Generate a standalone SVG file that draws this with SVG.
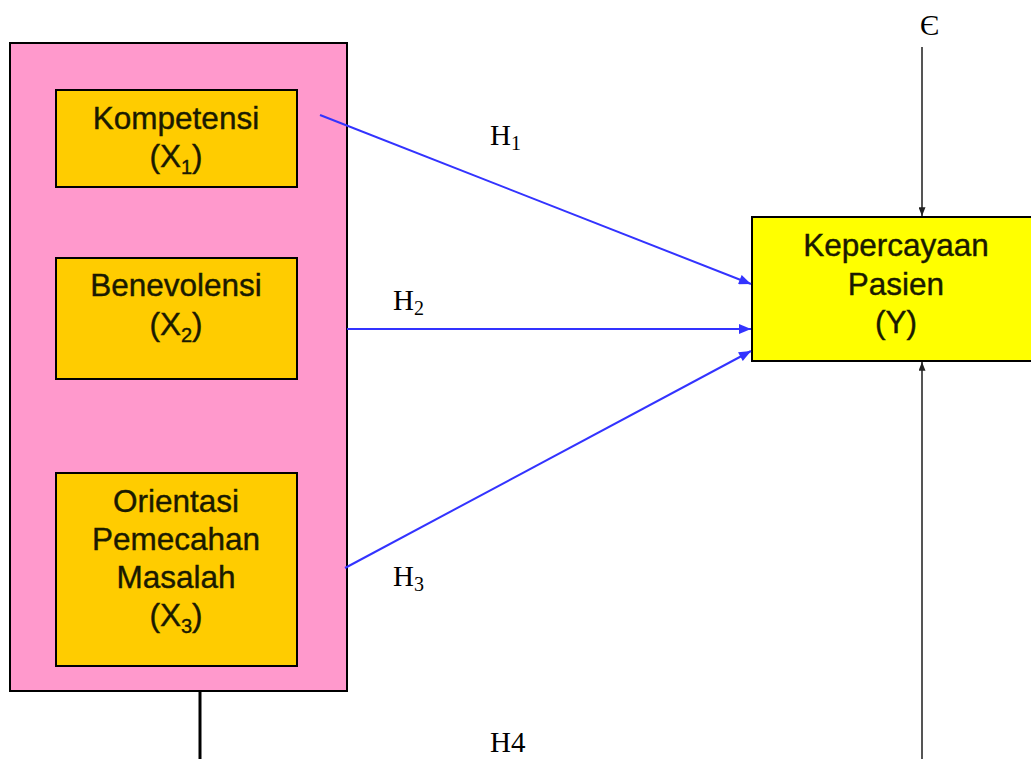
<svg xmlns="http://www.w3.org/2000/svg" width="1031" height="759" viewBox="0 0 1031 759">
<style>
.sans{font-family:"Liberation Sans",Arial,sans-serif;font-size:31.5px;fill:#1a1a00;stroke:#1a1a00;stroke-width:0.4;text-anchor:middle}
.serif{font-family:"Liberation Serif","Times New Roman",serif;font-size:29px;fill:#000}
.sub{font-size:20px}
.box{stroke:#000;stroke-width:2}
.blue{stroke:#3333ff;stroke-width:2;fill:none}
.gray{stroke:#555;stroke-width:2;fill:none}
</style>
<defs>
<marker id="ab" viewBox="0 0 12 10" refX="12" refY="5" markerWidth="14" markerHeight="10" markerUnits="userSpaceOnUse" orient="auto">
<path d="M0,0 L12,5 L0,10 z" fill="#3333ff"/>
</marker>
<marker id="ak" viewBox="0 0 10 8" refX="10" refY="4" markerWidth="9" markerHeight="7" markerUnits="userSpaceOnUse" orient="auto">
<path d="M0,0 L10,4 L0,8 z" fill="#222"/>
</marker>
</defs>
<rect width="1031" height="759" fill="#fff"/>
<g id="group-x">
<rect class="box" x="10" y="43" width="337" height="648" fill="#ff99cc"/>
</g>
<g id="x1">
<rect class="box" x="56" y="90" width="241" height="97" fill="#ffcc00"/>
<text class="sans" x="176" y="129">Kompetensi</text>
<text class="sans" x="176" y="167">(X<tspan class="sub" dy="7">1</tspan><tspan dy="-7">)</tspan></text>
</g>
<g id="x2">
<rect class="box" x="56" y="258" width="241" height="121" fill="#ffcc00"/>
<text class="sans" x="176" y="296">Benevolensi</text>
<text class="sans" x="176" y="335">(X<tspan class="sub" dy="7">2</tspan><tspan dy="-7">)</tspan></text>
</g>
<g id="x3">
<rect class="box" x="56" y="473" width="241" height="193" fill="#ffcc00"/>
<text class="sans" x="176" y="512">Orientasi</text>
<text class="sans" x="176" y="550">Pemecahan</text>
<text class="sans" x="176" y="588">Masalah</text>
<text class="sans" x="176" y="626">(X<tspan class="sub" dy="7">3</tspan><tspan dy="-7">)</tspan></text>
</g>
<g id="y">
<rect class="box" x="752" y="217" width="290" height="144" fill="#ffff00"/>
<text class="sans" x="896" y="256">Kepercayaan</text>
<text class="sans" x="896" y="295">Pasien</text>
<text class="sans" x="896" y="333">(Y)</text>
</g>
<g id="connectors">
<line class="blue" x1="320" y1="115" x2="751" y2="284" marker-end="url(#ab)"/>
<line class="blue" x1="347" y1="329" x2="751" y2="329" marker-end="url(#ab)"/>
<line class="blue" x1="345" y1="568" x2="751" y2="351" marker-end="url(#ab)"/>
<line class="gray" x1="922" y1="47" x2="922" y2="216" marker-end="url(#ak)"/>
<line class="gray" x1="922" y1="759" x2="922" y2="362" marker-end="url(#ak)"/>
<line x1="200" y1="691" x2="200" y2="759" stroke="#000" stroke-width="3"/>
</g>
<g id="labels">
<text class="serif" x="490" y="145">H<tspan class="sub" dy="5">1</tspan></text>
<text class="serif" x="393" y="310">H<tspan class="sub" dy="5">2</tspan></text>
<text class="serif" x="393" y="586">H<tspan class="sub" dy="5">3</tspan></text>
<text class="serif" x="490" y="752">H4</text>
<text class="serif" x="920" y="35">Є</text>
</g>
</svg>
